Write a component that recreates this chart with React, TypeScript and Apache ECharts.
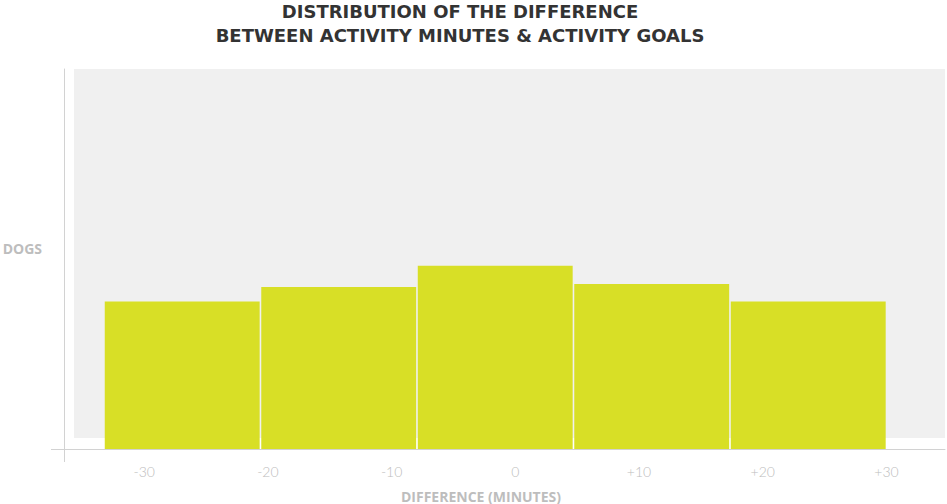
import React, { useEffect, useRef } from "react";
import * as echarts from "echarts";

const binEdges = [-33.25, -20.6, -7.95, 4.7, 17.35, 30];
const dogShares = [38.8, 42.6, 48.2, 43.4, 38.8];
const tickValues = [-30, -20, -10, 0, 10, 20, 30];
const titleLines = ["DISTRIBUTION OF THE DIFFERENCE", "BETWEEN ACTIVITY MINUTES & ACTIVITY GOALS"];
const xName = "DIFFERENCE (MINUTES)";
const yName = "DOGS";

const barColor = "#d8df26";
const axisColor = "#d2d2d2";
const labelColor = "#bdbdbd";

export default function App() {
  const ref = useRef<HTMLDivElement>(null);
  useEffect(() => {
    document.body.style.margin = "0";
    const chart = echarts.init(ref.current!, null, { renderer: "svg" });
    const bins = dogShares.map((v, i) => [binEdges[i], binEdges[i + 1], v]);
    const titleStyle = {
      fontFamily: "'DejaVu Sans'",
      fontWeight: 700,
      fontSize: 18,
      lineHeight: 22,
      color: "#333333",
    };
    chart.setOption({
      animation: false,
      title: {
        text: titleLines[0],
        subtext: titleLines[1],
        left: 460,
        top: 0,
        padding: 0,
        itemGap: 2,
        textAlign: "center",
        textStyle: titleStyle,
        subtextStyle: titleStyle,
      },
      grid: {
        left: 64,
        right: 2,
        top: 69,
        bottom: 55,
        containLabel: false,
        outerBoundsMode: "none",
      },
      graphic: [
        {
          type: "rect",
          z: -10,
          shape: { x: 74, y: 69, width: 871, height: 369 },
          style: { fill: "#f0f0f0" },
          silent: true,
        },
        {
          type: "line",
          shape: { x1: 51, y1: 449.5, x2: 64, y2: 449.5 },
          style: { stroke: axisColor, lineWidth: 1 },
          silent: true,
        },
        {
          type: "line",
          shape: { x1: 64.5, y1: 449, x2: 64.5, y2: 462 },
          style: { stroke: axisColor, lineWidth: 1 },
          silent: true,
        },
      ],
      xAxis: {
        type: "value",
        min: -36.48,
        max: 34.73,
        name: xName,
        nameLocation: "middle",
        nameGap: 40,
        nameTextStyle: {
          fontFamily: "'Open Sans'",
          fontWeight: 700,
          fontSize: 14,
          color: labelColor,
          padding: [0, 47, 0, 0],
        },
        axisLine: { show: true, onZero: false, lineStyle: { color: axisColor, width: 1 } },
        axisTick: { show: false },
        splitLine: { show: false },
        axisLabel: {
          customValues: tickValues,
          margin: 15,
          fontFamily: "Lato",
          fontWeight: 300,
          fontSize: 14,
          color: labelColor,
          formatter: (v: number) => (v > 0 ? "+" + v : String(v)),
        },
      },
      yAxis: {
        type: "value",
        min: 0,
        max: 100,
        name: yName,
        nameLocation: "middle",
        nameRotate: 0,
        nameGap: 22,
        nameTextStyle: {
          fontFamily: "'Open Sans'",
          fontWeight: 700,
          fontSize: 14,
          color: labelColor,
          align: "right",
          verticalAlign: "bottom",
          lineHeight: 22,
        },
        axisLine: { show: true, onZero: false, lineStyle: { color: axisColor, width: 1 } },
        axisTick: { show: false },
        axisLabel: { show: false },
        splitLine: { show: false },
      },
      series: [
        {
          type: "custom",
          data: bins,
          encode: { x: [0, 1], y: 2 },
          renderItem: (params: any, api: any) => {
            const p0 = api.coord([api.value(0), api.value(2)]);
            const p1 = api.coord([api.value(1), 0]);
            const inset = 0.8;
            return {
              type: "rect",
              shape: {
                x: p0[0] + inset,
                y: p0[1],
                width: p1[0] - p0[0] - 2 * inset,
                height: p1[1] - p0[1],
              },
              style: { fill: barColor },
            };
          },
        },
      ],
    });
    return () => chart.dispose();
  }, []);
  return <div ref={ref} style={{ width: 947, height: 504 }} />;
}
